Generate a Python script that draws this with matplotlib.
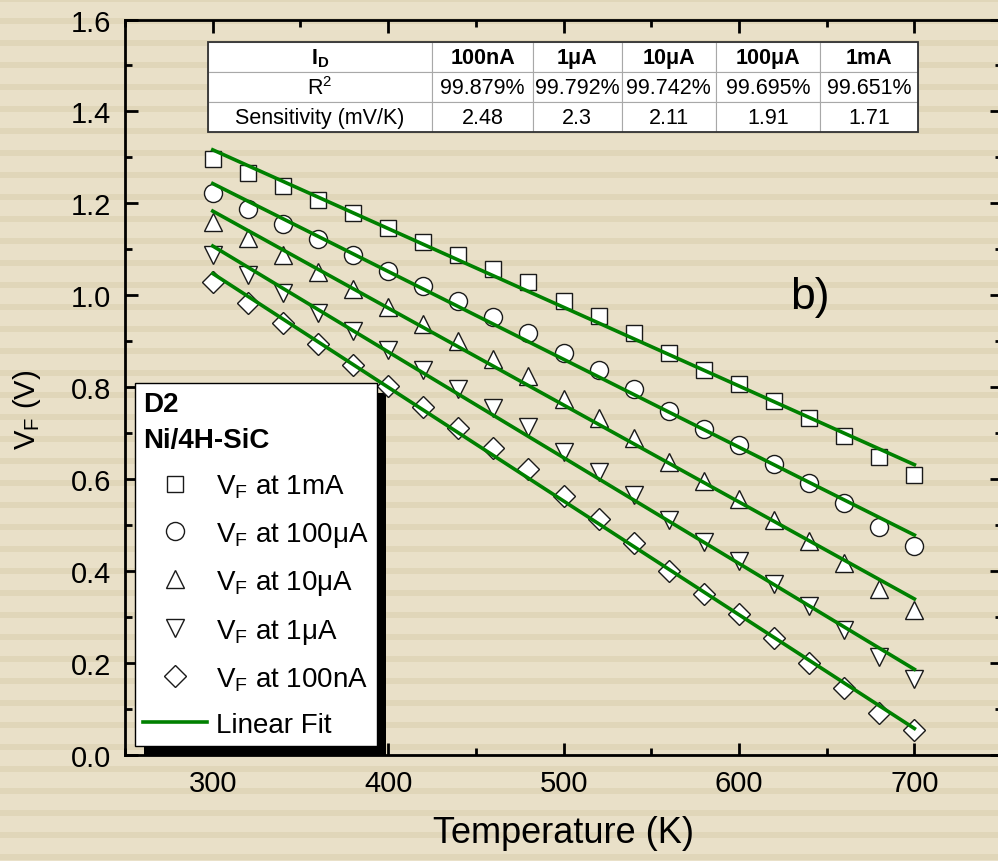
import numpy as np
import matplotlib

matplotlib.use("Agg")
import matplotlib.pyplot as plt
from matplotlib.lines import Line2D
from matplotlib.patches import Rectangle
from matplotlib.ticker import FormatStrFormatter, MultipleLocator

plt.rcParams["font.family"] = ["Liberation Sans", "DejaVu Sans"]
plt.rcParams["mathtext.fontset"] = "custom"
plt.rcParams["mathtext.rm"] = "Liberation Sans"
plt.rcParams["mathtext.bf"] = "Liberation Sans:bold"
plt.rcParams["mathtext.it"] = "Liberation Sans:italic"

# forward voltage vs temperature for each bias current
TEMPERATURE = [300, 320, 340, 360, 380, 400, 420, 440, 460, 480, 500,
               520, 540, 560, 580, 600, 620, 640, 660, 680, 700]
VF_1MA = [1.296, 1.267, 1.237, 1.208, 1.178, 1.147, 1.117, 1.087, 1.058, 1.028, 0.987,
          0.954, 0.917, 0.874, 0.838, 0.807, 0.770, 0.734, 0.693, 0.648, 0.609]
VF_100UA = [1.222, 1.188, 1.156, 1.123, 1.088, 1.053, 1.020, 0.987, 0.953, 0.918, 0.875,
            0.838, 0.797, 0.749, 0.709, 0.675, 0.633, 0.592, 0.548, 0.497, 0.455]
VF_10UA = [1.160, 1.125, 1.088, 1.051, 1.013, 0.974, 0.937, 0.900, 0.862, 0.824, 0.775,
           0.733, 0.689, 0.637, 0.595, 0.556, 0.511, 0.465, 0.417, 0.362, 0.315]
VF_1UA = [1.087, 1.045, 1.004, 0.962, 0.922, 0.880, 0.838, 0.796, 0.755, 0.713, 0.659,
          0.615, 0.565, 0.511, 0.463, 0.422, 0.372, 0.324, 0.272, 0.213, 0.165]
VF_100NA = [1.029, 0.984, 0.940, 0.894, 0.849, 0.803, 0.757, 0.712, 0.667, 0.622, 0.564,
            0.514, 0.462, 0.401, 0.351, 0.307, 0.254, 0.201, 0.146, 0.092, 0.054]

SERIES = [VF_1MA, VF_100UA, VF_10UA, VF_1UA, VF_100NA]
CURRENT_LABELS = ["1mA", "100μA", "10μA", "1μA", "100nA"]
MARKERS = ["s", "o", "^", "v", "D"]
MARKER_SIZES = [11.5, 13, 13.5, 13.5, 11]

# summary table
TABLE_CURRENTS = ["100nA", "1μA", "10μA", "100μA", "1mA"]
R_SQUARED = ["99.879%", "99.792%", "99.742%", "99.695%", "99.651%"]
SENSITIVITY = ["2.48", "2.3", "2.11", "1.91", "1.71"]

BG = "#e9e0c8"
STRIPE = "#e0d6b9"
GREEN = "#008000"
EDGE = "#1a1a1a"

fig = plt.figure(figsize=(9.98, 8.62), dpi=100, facecolor=BG)

# striped paper background
bg = fig.add_axes([0, 0, 1, 1], zorder=-10)
bg.set_xlim(0, 1)
bg.set_ylim(862, 0)
for y0 in range(-3, 862, 22):
    bg.axhspan(y0, y0 + 6, color=STRIPE, lw=0)
bg.axis("off")

ax = fig.add_axes([0.1253, 0.1230, 0.8788, 0.8532])
ax.set_facecolor("none")

t = np.asarray(TEMPERATURE, dtype=float)
for vf, marker, ms in zip(SERIES, MARKERS, MARKER_SIZES):
    vf = np.asarray(vf)
    ax.plot(t, vf, ls="none", marker=marker, ms=ms, mfc="white", mec=EDGE, mew=1.0, zorder=3)
    slope, intercept = np.polyfit(t, vf, 1)
    ax.plot(t, slope * t + intercept, color=GREEN, lw=2.6, zorder=4)

ax.set_xlim(250, 750)
ax.set_ylim(0.0, 1.6)
ax.xaxis.set_major_locator(MultipleLocator(100))
ax.xaxis.set_minor_locator(MultipleLocator(50))
ax.yaxis.set_major_locator(MultipleLocator(0.2))
ax.yaxis.set_minor_locator(MultipleLocator(0.1))
ax.yaxis.set_major_formatter(FormatStrFormatter("%.1f"))
ax.tick_params(which="both", direction="in", top=True, right=True, width=2, labelsize=21, pad=10)
ax.tick_params(which="major", length=9)
ax.tick_params(which="minor", length=5)
for spine in ax.spines.values():
    spine.set_linewidth(2)

ax.set_xlabel("Temperature (K)", fontsize=26, labelpad=13)
ax.set_ylabel("V$_\\mathregular{F}$ (V)", fontsize=21)
ax.yaxis.set_label_coords(-0.094, 0.47)

ax.text(0.758, 0.624, "b)", transform=ax.transAxes, fontsize=32, ha="left", va="center")

# table with fit quality and sensitivity
cell_text = [
    ["I$_\\mathregular{D}$"] + TABLE_CURRENTS,
    ["R$^\\mathregular{2}$"] + R_SQUARED,
    ["Sensitivity (mV/K)"] + SENSITIVITY,
]
col_widths = [0.3163, 0.1414, 0.1254, 0.1324, 0.1469, 0.1376]
tbl_box = [0.0943, 0.847, 0.8096, 0.122]
tbl = ax.table(cellText=cell_text, colWidths=col_widths, cellLoc="center", bbox=tbl_box, zorder=6)
tbl.auto_set_font_size(False)
tbl.set_fontsize(15.5)
for (row, col), cell in tbl.get_celld().items():
    cell.set_edgecolor("#a8a8a8")
    cell.set_linewidth(0.8)
    cell.set_facecolor("white")
    if row == 0:
        cell.get_text().set_fontweight("bold")
ax.add_patch(Rectangle((tbl_box[0], tbl_box[1]), tbl_box[2], tbl_box[3], transform=ax.transAxes,
                       fill=False, ec="#333333", lw=1.3, zorder=7, clip_on=False))

# legend with a solid drop shadow
handles = [Line2D([], [], ls="none", marker=m, ms=s, mfc="white", mec=EDGE, mew=1.0)
           for m, s in zip(MARKERS, MARKER_SIZES)]
handles.append(Line2D([], [], color=GREEN, lw=2.6))
labels = ["V$_\\mathregular{F}$ at " + c for c in CURRENT_LABELS] + ["Linear Fit"]
leg = ax.legend(handles, labels, title="D2\nNi/4H-SiC",
                title_fontproperties={"weight": "bold", "size": 20}, alignment="left",
                loc="upper left", bbox_to_anchor=(0.0114, 0.5058), fontsize=20,
                frameon=True, fancybox=False, edgecolor="black", framealpha=1,
                borderaxespad=0, borderpad=0.3, handlelength=2.3, handletextpad=0.3,
                labelspacing=0.7, numpoints=1)
leg.get_frame().set_linewidth(1.0)
leg.get_title().set_linespacing(1.5)
leg.set_zorder(8)

fig.canvas.draw()
bb = leg.get_window_extent()
inv = ax.transAxes.inverted()
(sx0, sy0), (sx1, sy1) = inv.transform([[bb.x0 + 9, bb.y0 - 10], [bb.x1 + 9, bb.y1 - 10]])
ax.add_patch(Rectangle((sx0, sy0), sx1 - sx0, sy1 - sy0, transform=ax.transAxes,
                       color="black", lw=0, zorder=2, clip_on=False))

fig.savefig("out.png", dpi=100, facecolor=BG)
